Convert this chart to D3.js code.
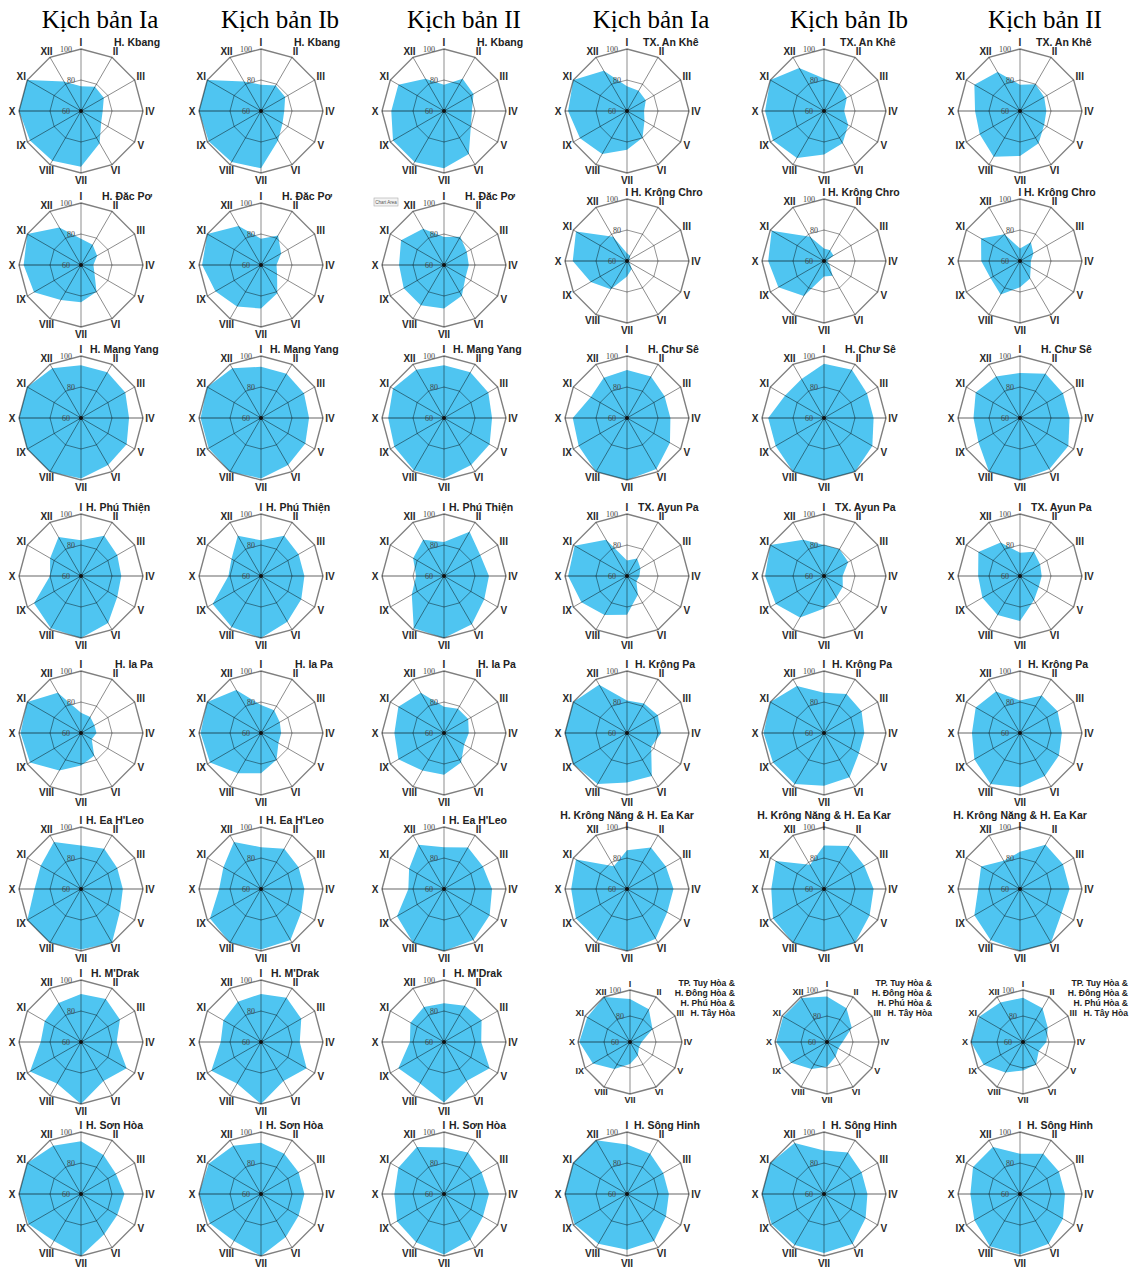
<!DOCTYPE html>
<html>
<head>
<meta charset="utf-8">
<script src="https://cdn.jsdelivr.net/npm/d3@7"></script>
<style>
body { margin: 0; background: #fff; }
svg { display: block; }
</style>
</head>
<body>
<svg width="1132" height="1269"></svg>
<script>
const months = ['I','II','III','IV','V','VI','VII','VIII','IX','X','XI','XII']
const scenarios = ['Kịch bản Ia', 'Kịch bản Ib', 'Kịch bản II']
const ticks = [60, 80, 100]

const leftNames = ['H. Kbang', 'H. Đăc Pơ', 'H. Mang Yang', 'H. Phú Thiện', 'H. Ia Pa', "H. Ea H'Leo", "H. M'Drak", 'H. Sơn Hòa']
const rightNames = ['TX. An Khê', 'H. Krông Chro', 'H. Chư Sê', 'TX. Ayun Pa', 'H. Krông Pa', 'H. Krông Năng & H. Ea Kar',
  'TP. Tuy Hòa &|H. Đông Hòa &|H. Phú Hòa &|H. Tây Hòa', 'H. Sông Hinh']

// values per district: [Ia, Ib, II], months I..XII
const kbang = [
  [76,78,77,74,75,84,96,97,98,100,100,82],
  [77,79,78,75,76,82,97,98,99,100,100,82],
  [77,84,82,78,80,92,97,98,98,94,94,84]]
const dacPo = [
  [77,75,72,68,70,80,84,86,95,97,100,88],
  [77,82,75,70,72,81,88,91,94,98,100,89],
  [78,81,77,76,76,83,88,90,90,89,92,87]]
const mangYang = [
  [94,94,93,91,94,95,99,100,100,100,100,97],
  [93,93,92,91,93,95,99,100,99,99,100,97],
  [94,94,93,91,94,95,99,99,97,96,98,96]]
const phuThien = [
  [83,90,87,86,87,95,100,99,95,80,83,89],
  [83,90,88,88,90,94,100,98,96,81,82,90],
  [82,93,87,89,90,96,100,99,84,78,83,87]]
const iaPa = [
  [73,72,70,70,68,77,81,88,98,99,100,90],
  [78,77,74,73,73,80,86,90,98,99,100,92],
  [77,78,78,76,75,82,87,88,94,92,94,90]]
const eaHLeo = [
  [88,90,87,87,89,100,99,100,100,90,90,95],
  [87,90,88,88,90,98,99,100,98,87,88,95],
  [87,91,89,91,94,98,100,100,95,83,86,93]]
const mDrak = [
  [91,92,89,83,94,89,100,91,98,86,87,89],
  [91,93,90,85,94,89,100,91,97,86,88,90],
  [85,87,88,84,94,89,99,91,94,82,85,86]]
const sonHoa = [
  [94,89,86,88,87,90,100,95,99,100,100,96],
  [93,90,88,88,88,92,100,95,98,100,99,96],
  [90,91,88,89,89,94,99,96,95,92,94,95]]

const anKhe = [
  [76,75,74,71,73,80,85,92,95,98,100,90],
  [81,80,77,73,78,84,88,95,98,98,100,92],
  [77,80,78,77,78,84,89,94,90,89,94,89]]
const krongChro = [
  [65,64,62,61,62,66,70,81,87,95,98,78],
  [68,68,67,62,64,71,70,86,94,96,99,78],
  [68,74,70,67,68,73,77,85,82,85,89,80]]
const chuSe = [
  [91,91,88,88,92,98,100,100,96,95,87,90],
  [95,96,92,92,96,100,100,100,96,96,89,89],
  [89,93,92,92,96,98,100,100,91,90,93,91]]
const ayunPa = [
  [70,73,70,68,67,74,85,89,94,98,99,87],
  [80,80,78,72,74,76,81,91,96,98,100,87],
  [75,78,75,74,74,78,89,89,88,87,91,85]]
const krongPa = [
  [81,82,83,82,78,92,92,98,100,100,100,96],
  [86,89,88,86,86,93,94,98,98,99,100,95],
  [81,88,88,87,89,92,95,98,94,91,93,91]]
const krongNang = [
  [85,91,89,90,90,97,100,98,98,96,98,77],
  [88,92,90,92,94,100,100,100,98,94,96,78],
  [84,93,92,92,91,100,100,98,94,87,89,81]]
const tuyHoa = [
  [93,89,80,69,68,72,77,84,93,99,98,100],
  [95,90,82,72,70,73,79,84,92,99,99,99],
  [94,90,82,78,74,80,82,87,95,100,99,95]]
const songHinh = [
  [92,90,87,87,89,95,96,97,99,100,100,100],
  [88,91,88,88,91,97,98,98,99,100,100,98],
  [86,90,89,89,92,97,99,99,94,92,95,95]]

const leftData = [kbang, dacPo, mangYang, phuThien, iaPa, eaHLeo, mDrak, sonHoa]
const rightData = [anKhe, krongChro, chuSe, ayunPa, krongPa, krongNang, tuyHoa, songHinh]

// layout
const colX = [81, 261, 444, 627, 824, 1020]
const rowY = [111, 265, 418, 576, 733, 889, 1042, 1194]
const headX = [100, 280, 464, 651, 849, 1045]
const leftTitleDx = [33, 21, 9, 5, 34, 5, 10, 5]
const rightTitleDx = [16, 4, 21, 11, 8, 0, 105, 7]

const svg = d3.select('svg')

svg.selectAll('.head')
  .data(headX)
  .enter().append('text')
  .attr('x', d => d)
  .attr('y', 28)
  .attr('text-anchor', 'middle')
  .style('font-family', "'Liberation Serif', 'Times New Roman', serif")
  .style('font-size', '25px')
  .text((d, i) => scenarios[i % 3])

const angle = i => i * 2 * Math.PI / months.length

function drawRadar(cx, cy, R, vals, name, titleDx, anchor, opt) {
  const g = svg.append('g').attr('transform', `translate(${cx}, ${cy})`)
  const r = d3.scaleLinear().domain([60, 100]).range([0, R]).clamp(true)
  const line = d3.lineRadial()
    .angle((d, i) => angle(i))
    .radius(d => r(d))
    .curve(d3.curveLinearClosed)

  // series fill
  g.append('path')
    .attr('d', line(vals))
    .attr('fill', '#4fc5f1')

  // rings
  ticks.slice(1).forEach(t => {
    g.append('path')
      .attr('d', line(months.map(() => t)))
      .attr('fill', 'none')
      .attr('stroke', '#000')
      .attr('stroke-opacity', t === 100 ? 0.5 : 0.42)
      .attr('stroke-width', t === 100 ? 1.4 : 1)
  })

  // spokes
  g.selectAll('.spoke')
    .data(months)
    .enter().append('line')
    .attr('x1', 0).attr('y1', 0)
    .attr('x2', (d, i) => Math.sin(angle(i)) * R)
    .attr('y2', (d, i) => -Math.cos(angle(i)) * R)
    .attr('stroke', '#000')
    .attr('stroke-opacity', (d, i) => (i === 3 || i === 9) ? 0.3 : 0.45)
    .attr('stroke-width', (d, i) => (i === 3 || i === 9) ? 1.8 : 1)

  g.append('circle').attr('r', 2).attr('fill', '#111')

  // month labels
  const lr = R + opt.labOff
  g.selectAll('.mlab')
    .data(months)
    .enter().append('text')
    .attr('x', (d, i) => Math.sin(angle(i)) * lr)
    .attr('y', (d, i) => -Math.cos(angle(i)) * (i === 0 ? lr - opt.iDrop : lr))
    .attr('text-anchor', 'middle')
    .attr('dominant-baseline', 'central')
    .style('font-family', "'Liberation Sans', Arial, sans-serif")
    .style('font-weight', 'bold')
    .style('font-size', opt.labSize + 'px')
    .attr('fill', '#2a2a2a')
    .text(d => d)

  // tick labels
  g.selectAll('.tlab')
    .data(ticks)
    .enter().append('text')
    .attr('x', d => d === 80 ? -10 : -15)
    .attr('y', d => -r(d) + 3)
    .attr('text-anchor', 'middle')
    .style('font-family', "'Liberation Serif', serif")
    .style('font-size', '8px')
    .attr('fill', '#444')
    .text(d => d)

  // title
  const lines = name.split('|')
  const multi = lines.length > 1
  g.selectAll('.title')
    .data(lines)
    .enter().append('text')
    .attr('x', titleDx)
    .attr('y', (d, i) => multi ? -56 + i * 10 : opt.titleY)
    .attr('text-anchor', anchor)
    .style('font-family', "'Liberation Sans', Arial, sans-serif")
    .style('font-weight', 'bold')
    .style('font-size', multi ? '8.6px' : '10.5px')
    .attr('fill', '#222')
    .text(d => d)
}

for (let row = 0; row < 8; row++) {
  for (let col = 0; col < 6; col++) {
    const left = col < 3
    const s = col % 3
    const vals = left ? leftData[row][s] : rightData[row][s]
    const name = left ? leftNames[row] : rightNames[row]
    let cx = colX[col], cy = rowY[row], R = 62
    let dx = left ? leftTitleDx[row] : rightTitleDx[row]
    let anchor = 'start'
    const opt = { labOff: 7, labSize: 10, titleY: -65, iDrop: 0 }
    if (!left && row === 1) cy -= 4
    if (!left && row === 5) { anchor = 'middle'; opt.titleY = -70; opt.iDrop = 6 }
    if (!left && row === 6) { R = 52; cx += 3; anchor = 'end'; opt.labOff = 6; opt.labSize = 9 }
    drawRadar(cx, cy, R, vals, name, dx, anchor, opt)
  }
}

// small leftover tooltip box in one panel
svg.append('rect')
  .attr('x', 374).attr('y', 198).attr('width', 24).attr('height', 8)
  .attr('fill', '#f4f4f4').attr('stroke', '#aaa').attr('stroke-width', 0.6)
svg.append('text')
  .attr('x', 386).attr('y', 204).attr('text-anchor', 'middle')
  .style('font-family', "'Liberation Sans', sans-serif").style('font-size', '4.5px')
  .attr('fill', '#555').text('Chart Area')
</script>
</body>
</html>
